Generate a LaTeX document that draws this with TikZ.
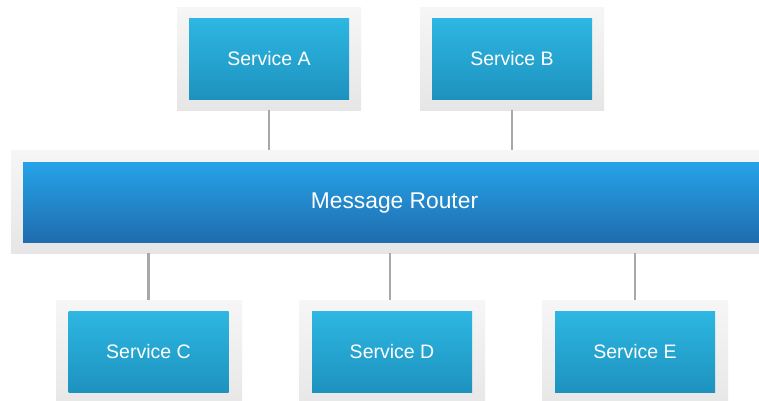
\documentclass[tikz,border=0pt]{standalone}
\usepackage{fontspec}
\setmainfont{Liberation Sans}
\begin{document}
\begin{tikzpicture}[x=1pt,y=-1pt,
  frame/.style={rectangle, inner sep=0pt, top color=fr1, bottom color=fr2, draw=none},
  svc/.style={rectangle, inner sep=0pt, minimum width=160pt, minimum height=81pt,
    top color=sv1, bottom color=sv2, draw=none, text=white, font=\fontsize{19.5}{22}\selectfont},
  router/.style={rectangle, inner sep=0pt, top color=rt1, bottom color=rt2, draw=none},
  link/.style={draw=lk, line width=2.2pt}]
\definecolor{fr1}{HTML}{F6F6F6}
\definecolor{fr2}{HTML}{E6E6E6}
\definecolor{sv1}{HTML}{2DB7E2}
\definecolor{sv2}{HTML}{1E92BF}
\definecolor{rt1}{HTML}{26A3E8}
\definecolor{rt2}{HTML}{1F6CAE}
\definecolor{lk}{HTML}{A8A8A8}
\useasboundingbox (0,0) rectangle (759,400);
\clip (0,0) rectangle (759,400);
\fill[white] (0,0) rectangle (759,400);
% frames
\node[frame, minimum width=184pt, minimum height=103pt] (Af) at (269,58.5) {};
\node[frame, minimum width=184pt, minimum height=103pt] (Bf) at (512,58.5) {};
\node[frame, minimum width=770pt, minimum height=103pt] (Rf) at (396,201.5) {};
\node[frame, minimum width=186pt, minimum height=112pt] (Cf) at (149,356) {};
\node[frame, minimum width=186pt, minimum height=112pt] (Df) at (392,356) {};
\node[frame, minimum width=186pt, minimum height=112pt] (Ef) at (635,356) {};
% inner boxes
\node[svc] (A) at (269,58.5) {Service A};
\node[svc] (B) at (512,58.5) {Service B};
\node[router, minimum width=746pt, minimum height=80pt] (R) at (396,202) {};
\node[text=white, font=\fontsize{22.8}{26}\selectfont] (Rt) at (394.5,203) {Message Router};
\node[svc] (C) at (148.5,351.5) {Service C};
\node[svc] (D) at (392,351.5) {Service D};
\node[svc] (E) at (635,351.5) {Service E};
% connectors
\draw[link] (Af.south) -- (Af.south |- Rf.north);
\draw[link] (Bf.south) -- (Bf.south |- Rf.north);
\draw[link] (Rf.south -| C) -- (Cf.north -| C);
\draw[link] (Rf.south -| 390,0) -- (Df.north -| 390,0);
\draw[link] (Rf.south -| E) -- (Ef.north -| E);
\end{tikzpicture}
\end{document}
